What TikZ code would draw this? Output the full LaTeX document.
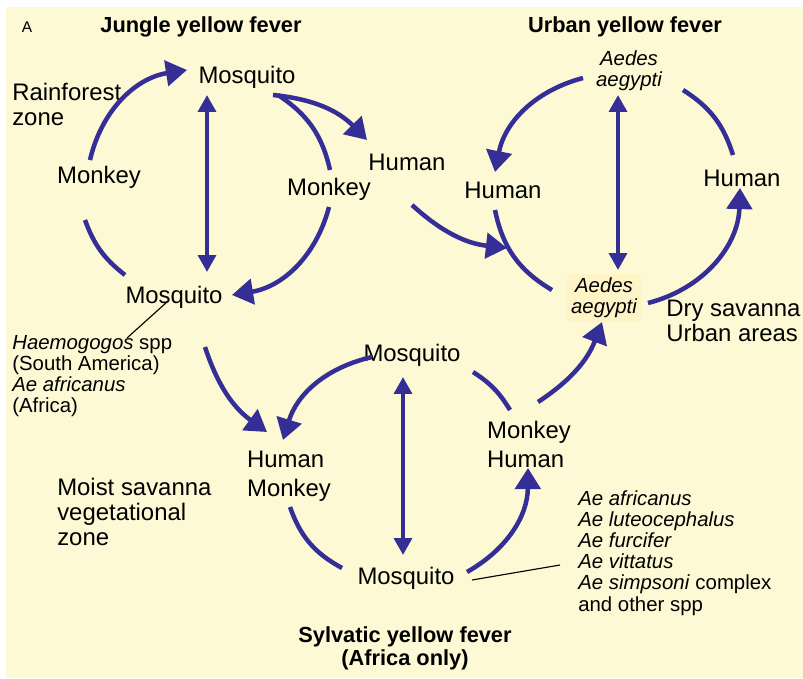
\documentclass[tikz,border=0pt]{standalone}
\usepackage{fontspec}
\setmainfont{Liberation Sans}
\usetikzlibrary{arrows.meta}
\definecolor{fvblue}{RGB}{52,46,150}
\definecolor{fvpaper}{RGB}{252,249,212}
\definecolor{fvmark}{RGB}{254,244,198}

\begin{document}
\begin{tikzpicture}[x=0.025cm,y=-0.025cm,
  host/.style={font=\fontsize{17}{20.6}\selectfont, inner sep=1pt, align=left},
  vector/.style={font=\fontsize{14.5}{15}\selectfont\itshape, align=center, inner sep=1pt},
  note/.style={font=\fontsize{17}{17.8}\selectfont, align=left, anchor=west, inner sep=0pt},
  list/.style={font=\fontsize{14.5}{15}\selectfont},
  title/.style={font=\fontsize{15.5}{16.5}\selectfont\bfseries, align=center},
  cycle/.style={line width=3.2pt, draw=fvblue},
  trans/.style={cycle, -{Triangle[length=15pt,width=18pt]}},
  both/.style={cycle, {Triangle[length=12pt,width=12.5pt]}-{Triangle[length=12pt,width=12.5pt]}},
  pointer/.style={line width=0.8pt}]
\useasboundingbox (0,0) rectangle (803,678);
\fill[fvpaper] (6,7) rectangle (803,678);

% titles
\node[font=\fontsize{11}{12}\selectfont] (panel) at (27,27) {A};
\node[title] (tjungle) at (201,27) {Jungle yellow fever};
\node[title] (turban) at (625,27) {Urban yellow fever};
\node[title] (tsylvan) at (405,648) {Sylvatic yellow fever\\(Africa only)};

% jungle cycle
\node[host] (jmtop) at (247,77) {Mosquito};
\node[host] (jmbot) at (174,297) {Mosquito};
\node[host] (jmkl) at (99,177) {Monkey};
\node[host] (jmkr) at (329,189) {Monkey};
\node[host] (jhum) at (407,162) {Human};

% urban cycle
\node[vector] (uatop) at (629,71) {Aedes\\aegypti};
\node[host] (uhl) at (503,190) {Human};
\node[host] (uhr) at (742,178) {Human};
\node[vector, fill=fvmark, inner sep=3pt] (uabot) at (604,298) {Aedes\\aegypti};

% sylvatic cycle
\node[host] (smtop) at (412,355) {Mosquito};
\node[host] (shm) at (289,476) {Human\\Monkey};
\node[host] (smh) at (529,444) {Monkey\\Human};
\node[host] (smbot) at (406,578) {Mosquito};

% zones and vectors
\node[note] (rain) at (12,104) {Rainforest\\zone};
\node[note, list] (hae) at (12,376) {\textit{Haemogogos} spp\\(South America)\\\textit{Ae africanus}\\(Africa)};
\node[note] (dry) at (666,321) {Dry savanna\\Urban areas};
\node[note] (moist) at (57,512) {Moist savanna\\vegetational\\zone};
\node[note, list] (aelist) at (578,553) {\textit{Ae africanus}\\\textit{Ae luteocephalus}\\\textit{Ae furcifer}\\\textit{Ae vittatus}\\\textit{Ae simpsoni} complex\\and other spp};

% jungle arrows
\draw[trans] ([shift={(-9,-17)}]jmkl.center) to[bend left=34] ([shift={(-60,-7)}]jmtop.center);
\draw[cycle] ([shift={(-14,43)}]jmkl.center) to[bend right=16] ([shift={(-49,-22)}]jmbot.center);
\draw[cycle] ([shift={(31,18)}]jmtop.center) to[bend left=22] ([shift={(1,-19)}]jmkr.center);
\draw[trans] ([shift={(0,18)}]jmkr.center) to[bend left=33] ([shift={(58,-2)}]jmbot.center);
\draw[both] ([shift={(-40,18)}]jmtop.center) -- ([shift={(33,-25)}]jmbot.center);
\draw[trans] ([shift={(26,18)}]jmtop.center) to[bend left=20] ([shift={(-40,-22)}]jhum.center);

% urban arrows
\draw[trans] ([shift={(-46,7)}]uatop.center) to[bend right=32] ([shift={(-8,-18)}]uhl.center);
\draw[cycle] ([shift={(54,19)}]uatop.center) to[bend left=20] ([shift={(-9,-23)}]uhr.center);
\draw[trans] ([shift={(44,5)}]uabot.center) to[bend right=37] ([shift={(-2,10)}]uhr.center);
\draw[cycle] ([shift={(-8,20)}]uhl.center) to[bend right=24] ([shift={(-52,-8)}]uabot.center);
\draw[both] ([shift={(-11,24)}]uatop.center) -- ([shift={(14,-28)}]uabot.center);
\draw[trans] ([shift={(5,43)}]jhum.center) to[bend right=18] ([shift={(4,58)}]uhl.center);

% sylvatic arrows
\draw[trans] ([shift={(-40,2)}]smtop.center) to[bend right=30] ([shift={(-6,-36)}]shm.center);
\draw[cycle] ([shift={(1,31)}]shm.center) to[bend right=21] ([shift={(-64,-10)}]smbot.center);
\draw[cycle] ([shift={(61,17)}]smtop.center) to[bend left=13] ([shift={(-19,-34)}]smh.center);
\draw[trans] ([shift={(61,-6)}]smbot.center) to[bend right=30] ([shift={(-1,24)}]smh.center);
\draw[both] ([shift={(-9,22)}]smtop.center) -- ([shift={(-3,-23)}]smbot.center);
\draw[trans] ([shift={(9,-42)}]smh.center) to[bend right=18] ([shift={(-2,24)}]uabot.center);
\draw[trans] ([shift={(31,50)}]jmbot.center) to[bend right=18] ([shift={(-22,-44)}]shm.center);

% vector pointers
\draw[pointer] ([shift={(-7,5)}]jmbot.center) -- ([shift={(115,-38)}]hae.west);
\draw[pointer] ([shift={(66,2)}]smbot.center) -- ([shift={(-18,12)}]aelist.west);
\end{tikzpicture}
\end{document}
